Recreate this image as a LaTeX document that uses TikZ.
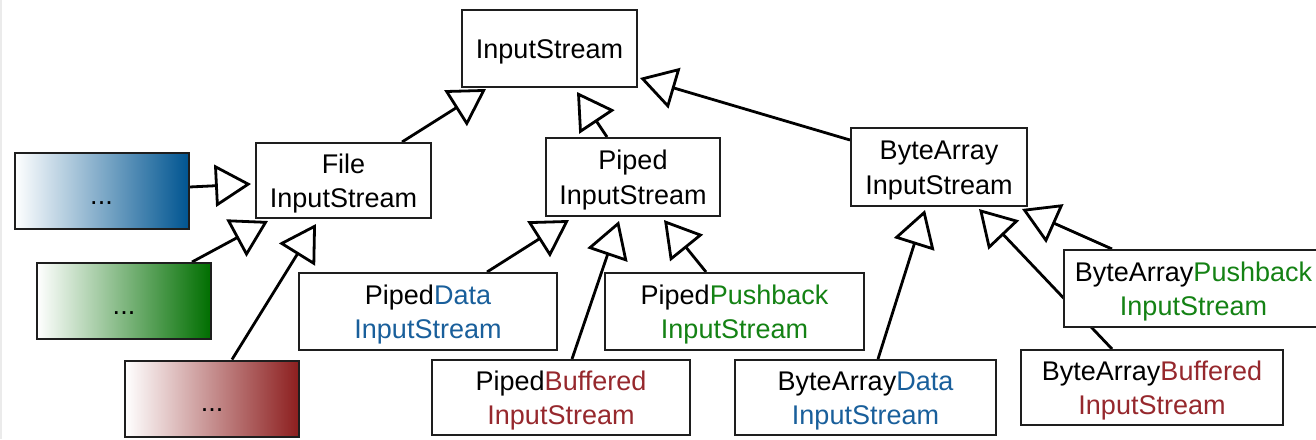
\documentclass[tikz,border=0pt]{standalone}
\usepackage{fontspec}
\setmainfont{Liberation Sans}
\usetikzlibrary{arrows.meta,calc,backgrounds}
\definecolor{txtblue}{RGB}{25,95,155}
\definecolor{txtgreen}{RGB}{20,130,20}
\definecolor{txtred}{RGB}{150,40,45}
\definecolor{gblue}{RGB}{0,85,145}
\definecolor{ggreen}{RGB}{0,110,0}
\definecolor{gred}{RGB}{140,30,30}
\definecolor{boxline}{RGB}{30,30,30}
\newcommand\lowerstrut{\rule{0pt}{26pt}}
\tikzset{
  cls/.style={draw=boxline, line width=2pt, fill=white, inner sep=0pt, align=center,
    font=\fontsize{27}{34.5}\selectfont},
  grad/.style={draw=boxline, line width=2pt, inner sep=0pt, minimum width=174pt, minimum height=76pt,
    left color=white, right color=#1, font=\fontsize{27}{34}\selectfont},
  inh/.style={line width=2.8pt, -{Triangle[open, length=36pt, width=42pt, line width=2.8pt]}},
}
\begin{document}
\begin{tikzpicture}[x=1pt, y=-1pt]
\useasboundingbox (0,0) rectangle (1316,439);
% nodes
\node[cls, minimum width=175pt, minimum height=77pt] (in) at (549.5,48.5) {\lowerstrut InputStream};
\node[cls, minimum width=175pt, minimum height=75pt] (file) at (343.5,180.5) {\lowerstrut File\\InputStream};
\node[cls, minimum width=174pt, minimum height=78pt] (piped) at (633,177) {\lowerstrut Piped\\InputStream};
\node[cls, minimum width=176pt, minimum height=78pt] (ba) at (939,167) {\lowerstrut ByteArray\\InputStream};
\node[grad=gblue] (blue) at (101.5,191) {\lowerstrut ...};
\node[grad=ggreen] (green) at (124,301) {\lowerstrut ...};
\node[grad=gred] (red) at (212,398.5) {\lowerstrut ...};
\node[cls, minimum width=258pt, minimum height=77pt] (pdata) at (428,311.5)
  {\lowerstrut Piped\textcolor{txtblue}{Data}\\\textcolor{txtblue}{InputStream}};
\node[cls, minimum width=259pt, minimum height=77pt] (ppush) at (734.5,311.5)
  {\lowerstrut Piped\textcolor{txtgreen}{Pushback}\\\textcolor{txtgreen}{InputStream}};
\node[cls, minimum width=258pt, minimum height=75pt] (pbuf) at (561,397.5)
  {\lowerstrut Piped\textcolor{txtred}{Buffered}\\\textcolor{txtred}{InputStream}};
\node[cls, minimum width=261pt, minimum height=75pt] (bdata) at (865.5,397.5)
  {\lowerstrut ByteArray\textcolor{txtblue}{Data}\\\textcolor{txtblue}{InputStream}};
\node[cls, minimum width=262pt, minimum height=75pt] (bbuf) at (1152,387.5)
  {\lowerstrut ByteArray\textcolor{txtred}{Buffered}\\\textcolor{txtred}{InputStream}};
\node[cls, minimum width=259pt, minimum height=77pt] (bpush) at (1193.5,288.5)
  {\lowerstrut ByteArray\textcolor{txtgreen}{Pushback}\\\textcolor{txtgreen}{InputStream}};
% connectors
\begin{scope}[on background layer]
\fill[white] (0,0) rectangle (1316,439);
\draw[black!8, line width=1.5pt] (0.75,0) -- (0.75,439);
\draw[inh] ($(file.north west)+(147,0)$) -- ($(in.south west)+(25,1)$);
\draw[inh] ($(piped.north west)+(62,0)$) -- ($(in.south west)+(116,4)$);
\draw[inh] ($(ba.north west)+(0,13)$) -- ($(in.south east)+(2,-10)$);
\draw[inh] ($(blue.east)+(0,-4)$) -- ($(file.west)+(-4,3.5)$);
\draw[inh] ($(green.north west)+(156,0)$) -- ($(file.south west)+(13,2)$);
\draw[inh] ($(red.north west)+(108,0)$) -- ($(file.south west)+(61,5)$);
\draw[inh] ($(pdata.north west)+(189,0)$) -- ($(piped.south west)+(24,3)$);
\draw[inh] ($(pbuf.north west)+(141,0)$) -- ($(piped.south west)+(74,4)$);
\draw[inh] ($(ppush.north west)+(102,0)$) -- ($(piped.south west)+(119,3)$);
\draw[inh] ($(bdata.north west)+(144,0)$) -- ($(ba.south west)+(75,3)$);
\draw[inh] ($(bbuf.north west)+(92,0)$) -- ($(ba.south west)+(129,2)$);
\draw[inh] ($(bpush.north west)+(49,0)$) -- ($(ba.south west)+(172,2)$);
\end{scope}
\end{tikzpicture}
\end{document}
